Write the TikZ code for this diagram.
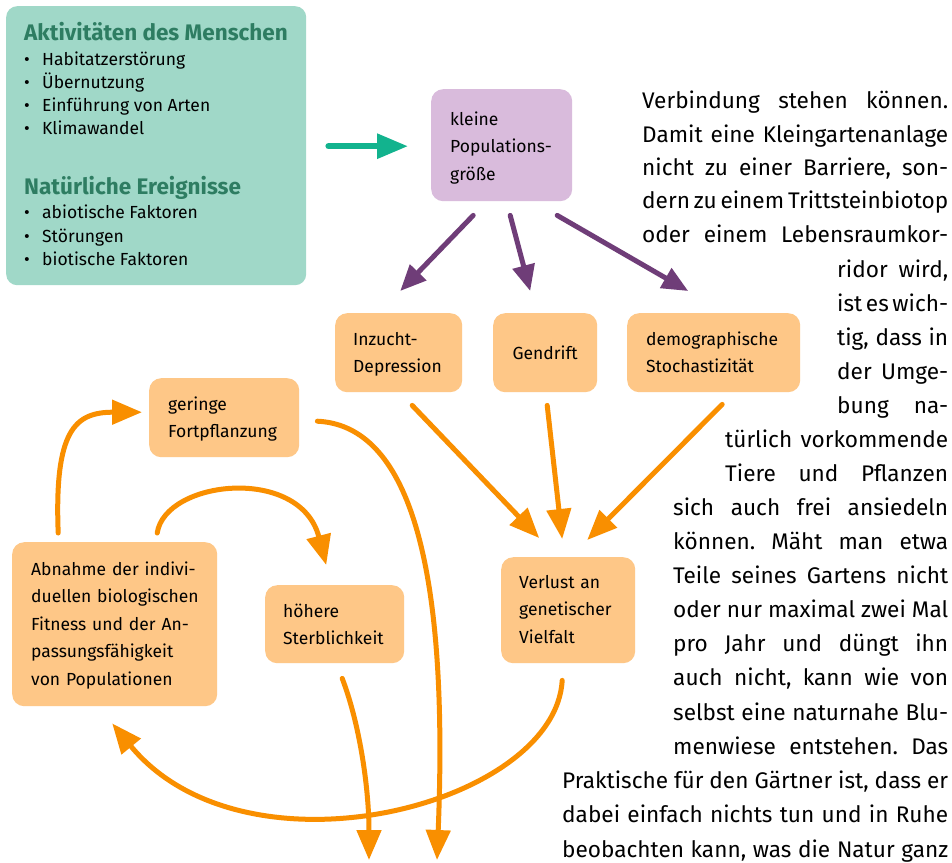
\documentclass[tikz,border=0pt]{standalone}
\usepackage{fontspec}
\setmainfont{Fira Sans}
\usetikzlibrary{arrows.meta}
\definecolor{gfill}{HTML}{A0D8C8}
\definecolor{ghead}{HTML}{2E7D62}
\definecolor{garrow}{HTML}{12B38E}
\definecolor{pfill}{HTML}{D9BBDC}
\definecolor{parrow}{HTML}{6F3D78}
\definecolor{ofill}{HTML}{FEC787}
\definecolor{oarrow}{HTML}{F98F00}
\newcommand\rtfont{\fontsize{22.6}{34}\selectfont\frenchspacing\spaceskip=0.21em plus 1fil minus 0.1em\relax}
\newcommand\bxfont{\fontsize{17.5}{27.5}\selectfont}
\begin{document}
\begin{tikzpicture}[x=1pt,y=-1pt,
  pbox/.style={rectangle, rounded corners=12pt, fill=pfill, inner ysep=0pt, anchor=north west, align=left, font=\bxfont},
  obox/.style={rectangle, rounded corners=12pt, fill=ofill, inner ysep=0pt, anchor=north west, align=left, font=\bxfont},
  hd/.style={anchor=base west, inner sep=0pt, font=\fontsize{22.5}{25}\selectfont\bfseries, text=ghead},
  it/.style={anchor=base west, inner sep=0pt, font=\fontsize{17.5}{23}\selectfont},
  rt/.style={anchor=base west, inner sep=0pt, font=\rtfont},
  oarr/.style={draw=oarrow, line width=5pt, line cap=round, -{Triangle[length=30pt,width=24pt]}},
  parr/.style={draw=parrow, line width=5pt, line cap=round, -{Triangle[length=26pt,width=22pt]}},
  garr/.style={draw=garrow, line width=6pt, line cap=round, -{Triangle[length=31pt,width=24pt]}}
]
\fill[white] (0,0) rectangle (952,862);
\useasboundingbox (0,0) rectangle (952,862);

% green box
\node[rectangle, rounded corners=11pt, fill=gfill, inner sep=0pt, anchor=north west, minimum width=300pt, minimum height=279pt] (gbox) at (6,6) {};
\node[hd] (h1) at (24,40) {Aktivitäten des Menschen};
\node[it] (i1) at (24,65) {\makebox[18pt][l]{•}Habitatzerstörung};
\node[it] (i2) at (24,88) {\makebox[18pt][l]{•}Übernutzung};
\node[it] (i3) at (24,111) {\makebox[18pt][l]{•}Einführung von Arten};
\node[it] (i4) at (24,134) {\makebox[18pt][l]{•}Klimawandel};
\node[hd] (h2) at (24,194) {Natürliche Ereignisse};
\node[it] (i5) at (24,218) {\makebox[18pt][l]{•}abiotische Faktoren};
\node[it] (i6) at (24,242) {\makebox[18pt][l]{•}Störungen};
\node[it] (i7) at (24,265) {\makebox[18pt][l]{•}biotische Faktoren};

% boxes
\node[pbox, inner xsep=19pt, text width=103pt, text height=36pt, text depth=76pt] (klein) at (431,89) {\mbox{kleine}\\\mbox{Populations-}\\\mbox{größe}};
\node[obox, inner xsep=18pt, text width=91pt, text height=32pt, text depth=47pt] (inz) at (335,313) {\mbox{Inzucht-}\\\mbox{Depression}};
\node[obox, align=center, inner xsep=10pt, text width=84pt, text height=46pt, text depth=33pt] (gen) at (493,313) {Gendrift};
\node[obox, inner xsep=19pt, text width=135pt, text height=32pt, text depth=47pt] (dem) at (627,313) {\mbox{demographische}\\\mbox{Stochastizität}};
\node[obox, inner xsep=19pt, text width=112pt, text height=32pt, text depth=47pt] (ger) at (149,378) {\mbox{geringe}\\\mbox{Fortpflanzung}};
\node[obox, inner xsep=19pt, text width=167pt, text height=33pt, text depth=131pt] (abn) at (12,542) {\mbox{Abnahme der indivi-}\\\mbox{duellen biologischen}\\\mbox{Fitness und der An-}\\\mbox{passungsfähigkeit}\\\mbox{von Populationen}};
\node[obox, inner xsep=18pt, text width=103pt, text height=32pt, text depth=46pt] (hoe) at (265,585) {\mbox{höhere}\\\mbox{Sterblichkeit}};
\node[obox, inner xsep=18pt, text width=98pt, text height=31pt, text depth=75pt] (ver) at (501,557) {\mbox{Verlust an}\\\mbox{genetischer}\\\mbox{Vielfalt}};

\coordinate (out1) at (437,860);
\coordinate (out2) at (369,860);

% arrows
\draw[garr] ([shift={(22,0.5)}]gbox.east) -- ([shift={(-23,1)}]klein.west);
\draw[parr] ([shift={(-28.5,14)}]klein.south) -- ([shift={(1.5,-22)}]inz.north);
\draw[parr] ([shift={(8.5,14)}]klein.south) -- ([shift={(-15,-22)}]gen.north);
\draw[parr] ([shift={(55.5,14)}]klein.south) -- ([shift={(-25.5,-22)}]dem.north);
\draw[oarr] ([shift={(13.5,13)}]inz.south) -- ([shift={(-29,-19)}]ver.north);
\draw[oarr] ([shift={(2,13)}]gen.south) -- ([shift={(-6,-18)}]ver.north);
\draw[oarr] ([shift={(8.5,12)}]dem.south) -- ([shift={(19,-17)}]ver.north);
\draw[oarr] ([shift={(-56.5,-9)}]abn.north) .. controls +(-4,-103) and +(-67,0) .. ([shift={(-7,-5.5)}]ger.west);
\draw[oarr] ([shift={(42.5,-9)}]abn.north) .. controls +(8,-53) and +(-26,-100) .. ([shift={(-8.5,-20)}]hoe.north);
\draw[oarr] ([shift={(18,3.5)}]ger.east) .. controls +(83,4) and +(13,-320) .. (out1);
\draw[oarr] ([shift={(7.5,15)}]hoe.south) .. controls +(18,47) and +(0,-70) .. (out2);
\draw[oarr] ([shift={(-6,17)}]ver.south) .. controls +(-7,125) and +(133,162) .. ([shift={(-2.5,17)}]abn.south);

% running text
\node[rt] (t1) at (642,108) {\makebox[306pt][s]{Verbindung stehen können.}};
\node[rt] (t2) at (642,142) {\makebox[306pt][s]{Damit eine Kleingartenanlage}};
\node[rt] (t3) at (642,175) {\makebox[306pt][s]{nicht zu einer Barriere, son-}};
\node[rt] (t4) at (642,208) {\makebox[306pt][s]{dern zu einem Trittsteinbiotop}};
\node[rt] (t5) at (642,242) {\makebox[306pt][s]{oder einem Lebensraumkor-}};
\node[rt] (t6) at (837,277) {\makebox[111pt][s]{ridor wird,}};
\node[rt] (t7) at (837,311) {\makebox[111pt][s]{ist es wich-}};
\node[rt] (t8) at (837,345) {\makebox[111pt][s]{tig, dass in}};
\node[rt] (t9) at (837,379) {\makebox[111pt][s]{der Umge-}};
\node[rt] (t10) at (837,413) {\makebox[111pt][s]{bung na-}};
\node[rt] (t11) at (725,447) {\makebox[223pt][s]{türlich vorkommende}};
\node[rt] (t12) at (725,481) {\makebox[223pt][s]{Tiere und Pflanzen}};
\node[rt] (t13) at (673,515) {\makebox[275pt][s]{sich auch frei ansiedeln}};
\node[rt] (t14) at (673,549) {\makebox[275pt][s]{können. Mäht man etwa}};
\node[rt] (t15) at (673,583) {\makebox[275pt][s]{Teile seines Gartens nicht}};
\node[rt] (t16) at (673,617) {\makebox[275pt][s]{oder nur maximal zwei Mal}};
\node[rt] (t17) at (673,651) {\makebox[275pt][s]{pro Jahr und düngt ihn}};
\node[rt] (t18) at (673,685) {\makebox[275pt][s]{auch nicht, kann wie von}};
\node[rt] (t19) at (673,720) {\makebox[275pt][s]{selbst eine naturnahe Blu-}};
\node[rt] (t20) at (673,754) {\makebox[275pt][s]{menwiese entstehen. Das}};
\node[rt] (t21) at (562,788) {\makebox[386pt][s]{Praktische für den Gärtner ist, dass er}};
\node[rt] (t22) at (562,822) {\makebox[386pt][s]{dabei einfach nichts tun und in Ruhe}};
\node[rt] (t23) at (562,857) {\makebox[386pt][s]{beobachten kann, was die Natur ganz}};
\end{tikzpicture}
\end{document}
